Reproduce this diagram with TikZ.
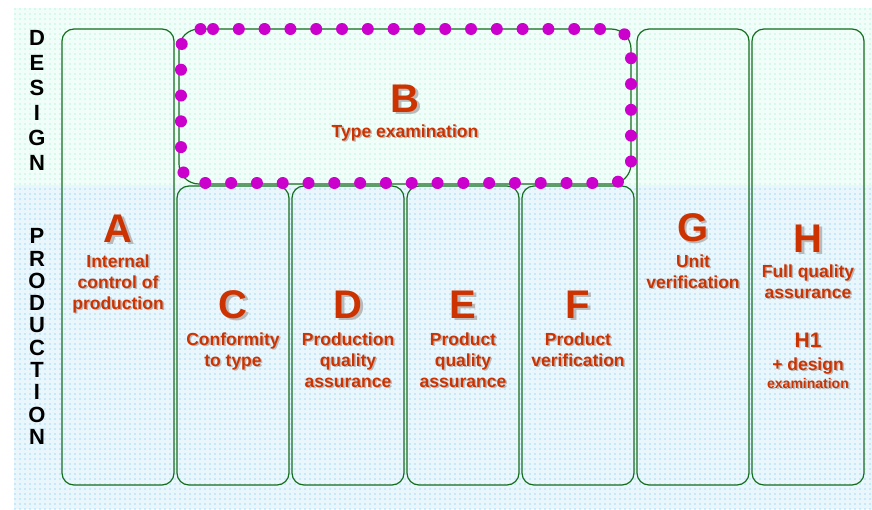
\documentclass[tikz,border=0pt]{standalone}
\usepackage{fontspec}
\setmainfont{Liberation Sans}
\usetikzlibrary{patterns.meta}
\definecolor{boxgreen}{RGB}{20,110,30}
\definecolor{dotmag}{RGB}{204,0,204}
\definecolor{lblred}{RGB}{204,51,0}
\definecolor{shadowgray}{RGB}{185,185,185}
\definecolor{mintdot}{RGB}{190,245,225}
\definecolor{bluedot}{RGB}{165,218,245}
\newcommand{\shtext}[5]{%
  \node[#3, text=shadowgray] at ([xshift=#5pt,yshift=-#5pt]#2) {#4};
  \node[#3] (#1) at (#2) {#4};}
\begin{document}
\begin{tikzpicture}[x=1pt,y=-1pt,
  modbox/.style={draw=boxgreen, line width=1.2pt, rounded corners=12pt},
  bigletter/.style={text=lblred, font=\bfseries\fontsize{40}{44}\selectfont, anchor=base, inner sep=0pt},
  desc/.style={text=lblred, font=\bfseries\fontsize{17.5}{21}\selectfont, anchor=base, align=center, inner sep=0pt},
  side/.style={text=black, font=\bfseries\fontsize{22}{25}\selectfont, align=center, inner sep=0pt}]
\useasboundingbox (0,0) rectangle (872,509);
% background
\fill[white] (0,0) rectangle (872,509);
\fill[mintdot!22] (14,8) rectangle (872,185);
\fill[bluedot!25] (14,185) rectangle (872,509);
\fill[pattern={Dots[distance=5pt,radius=0.9pt]}, pattern color=mintdot] (14,8) rectangle (872,185);
\fill[pattern={Dots[distance=5pt,radius=0.9pt]}, pattern color=bluedot] (14,185) rectangle (872,509);
% side labels
\node[side] (design) at (37,100) {D\\E\\S\\I\\G\\N};
\node[side, font=\bfseries\fontsize{22}{22.3}\selectfont] (production) at (37,336.5) {P\\R\\O\\D\\U\\C\\T\\I\\O\\N};
% boxes
\draw[modbox] (62,29) rectangle (174,485);
\draw[modbox] (177,186) rectangle (289,485);
\draw[modbox] (292,186) rectangle (404,485);
\draw[modbox] (407,186) rectangle (519,485);
\draw[modbox] (522,186) rectangle (634,485);
\draw[modbox] (637,29) rectangle (749,485);
\draw[modbox] (752,29) rectangle (864,485);
% B box
\draw[boxgreen, line width=1.2pt, rounded corners=20pt] (179,29) rectangle (631,184);
\draw[dotmag, line width=12pt, line cap=round, dash pattern=on 0pt off 25.8pt, dash phase=-12pt, rounded corners=20pt] (181,29) -- (631,29) -- (631,183) -- (181,183) -- cycle;
% texts (multi-line nodes: base = last line)
\shtext{la}{118,242}{bigletter}{A}{2.5}
\shtext{da}{118,309}{desc}{Internal\\control of\\production}{1.5}
\shtext{lb}{405,112}{bigletter}{B}{2.5}
\shtext{db}{405,137}{desc}{Type examination}{1.5}
\shtext{lc}{233,318}{bigletter}{C}{2.5}
\shtext{dc}{233,366}{desc}{Conformity\\to type}{1.5}
\shtext{ld}{348,318}{bigletter}{D}{2.5}
\shtext{dd}{348,387}{desc}{Production\\quality\\assurance}{1.5}
\shtext{le}{463,318}{bigletter}{E}{2.5}
\shtext{de}{463,387}{desc}{Product\\quality\\assurance}{1.5}
\shtext{lf}{578,318}{bigletter}{F}{2.5}
\shtext{df}{578,366}{desc}{Product\\verification}{1.5}
\shtext{lg}{693,241}{bigletter}{G}{2.5}
\shtext{dg}{693,288}{desc}{Unit\\verification}{1.5}
\shtext{lh}{808,252}{bigletter}{H}{2.5}
\shtext{dh}{808,298}{desc}{Full quality\\assurance}{1.5}
\shtext{lh1}{808,347}{desc, font=\bfseries\fontsize{21}{24}\selectfont}{H1}{1.5}
\shtext{dh1}{808,370}{desc}{+ design}{1.5}
\shtext{dh2}{808,388}{desc, font=\bfseries\fontsize{14}{17}\selectfont}{examination}{1.5}
\end{tikzpicture}
\end{document}
